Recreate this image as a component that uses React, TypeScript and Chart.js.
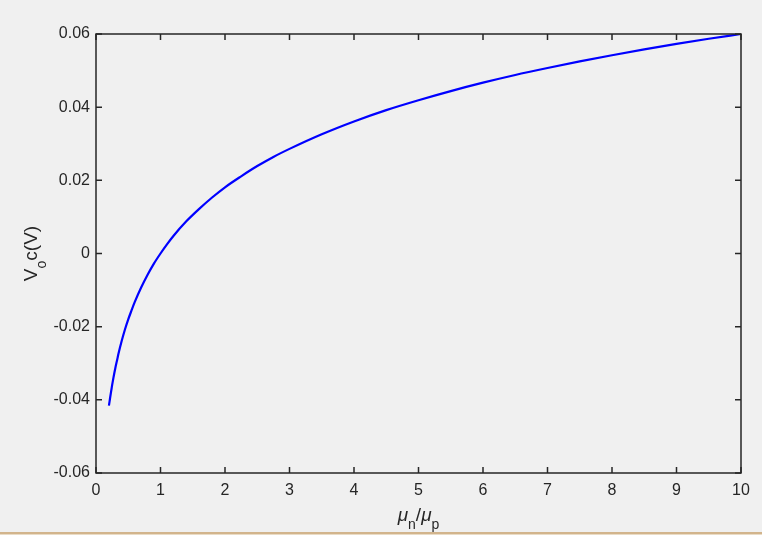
import React, { useEffect, useRef } from "react";
import { Chart, registerables } from "chart.js";

Chart.register(...registerables);

const ratioValues = [0.2, 0.21, 0.22, 0.24, 0.25, 0.27, 0.3, 0.33, 0.35, 0.4, 0.45, 0.5, 0.55, 0.6, 0.7, 0.8, 0.9, 1, 1.1, 1.2, 1.4, 1.6, 1.8, 2, 2.25, 2.5, 2.75, 3, 3.5, 4, 4.5, 5, 5.5, 6, 6.5, 7, 7.5, 8, 8.5, 9, 9.5, 10];
const vocValues = [-0.0416, -0.0405, -0.0393, -0.0371, -0.0360, -0.0340, -0.0313, -0.0289, -0.0273, -0.0238, -0.0207, -0.0180, -0.0156, -0.0133, -0.0093, -0.0058, -0.0027, 0.0, 0.0025, 0.0048, 0.0088, 0.0122, 0.0153, 0.0181, 0.0211, 0.0239, 0.0264, 0.0286, 0.0326, 0.0361, 0.0392, 0.0419, 0.0444, 0.0467, 0.0488, 0.0507, 0.0525, 0.0542, 0.0558, 0.0573, 0.0587, 0.0600];
const xTickValues = [0, 1, 2, 3, 4, 5, 6, 7, 8, 9, 10];
const yTickValues = [-0.06, -0.04, -0.02, 0, 0.02, 0.04, 0.06];
const yTickLabels = ["-0.06", "-0.04", "-0.02", "0", "0.02", "0.04", "0.06"];

const FONT = "'Liberation Sans', Arial, Helvetica, sans-serif";
const AX = "#262626";
const W = 762;
const H = 532;

type Part = { t: string; sub?: boolean; it?: boolean };

function drawParts(ctx: CanvasRenderingContext2D, parts: Part[], cx: number, baseline: number, main: number, sub: number, subOff: number) {
  const fontOf = (p: Part) => `${p.it ? "italic " : ""}${p.sub ? sub : main}px ${FONT}`;
  let total = 0;
  for (const p of parts) {
    ctx.font = fontOf(p);
    total += ctx.measureText(p.t).width;
  }
  let x = cx - total / 2;
  ctx.textAlign = "left";
  ctx.textBaseline = "alphabetic";
  for (const p of parts) {
    ctx.font = fontOf(p);
    ctx.fillText(p.t, x, baseline + (p.sub ? subOff : 0));
    x += ctx.measureText(p.t).width;
  }
}

const matlabAxes = {
  id: "matlabAxes",
  afterDraw(chart: any) {
    const ctx: CanvasRenderingContext2D = chart.ctx;
    const { left, right, top, bottom } = chart.chartArea;
    const xs = chart.scales.x;
    const ys = chart.scales.y;
    ctx.save();
    ctx.strokeStyle = AX;
    ctx.lineWidth = 1.5;
    ctx.strokeRect(left, top, right - left, bottom - top);
    const tl = 6;
    ctx.beginPath();
    for (const v of xTickValues) {
      const px = xs.getPixelForValue(v);
      ctx.moveTo(px, bottom);
      ctx.lineTo(px, bottom - tl);
      ctx.moveTo(px, top);
      ctx.lineTo(px, top + tl);
    }
    for (const v of yTickValues) {
      const py = ys.getPixelForValue(v);
      ctx.moveTo(left, py);
      ctx.lineTo(left + tl, py);
      ctx.moveTo(right, py);
      ctx.lineTo(right - tl, py);
    }
    ctx.stroke();

    ctx.fillStyle = AX;
    const cx = (left + right) / 2;
    drawParts(
      ctx,
      [{ t: "\u03bc", it: true }, { t: "n", sub: true }, { t: "/" }, { t: "\u03bc", it: true }, { t: "p", sub: true }],
      cx,
      521,
      19,
      14,
      8
    );
    const cy = (top + bottom) / 2;
    ctx.translate(37, cy);
    ctx.rotate(-Math.PI / 2);
    drawParts(ctx, [{ t: "V" }, { t: "o", sub: true }, { t: "c(V)" }], 0, 0, 19, 14, 9);
    ctx.restore();
  },
};

export default function App() {
  const ref = useRef<HTMLCanvasElement | null>(null);
  useEffect(() => {
    document.body.style.margin = "0";
    const canvas = ref.current;
    if (!canvas) return;
    const data = ratioValues.map((x, i) => ({ x, y: vocValues[i] }));
    const chart = new Chart(canvas, {
      type: "scatter",
      data: {
        datasets: [
          {
            data,
            showLine: true,
            borderColor: "#0000ff",
            borderWidth: 2.2,
            pointRadius: 0,
            fill: false,
            cubicInterpolationMode: "monotone",
          } as any,
        ],
      },
      options: {
        animation: false,
        responsive: false,
        devicePixelRatio: 1,
        layout: { padding: { top: 34, right: 21, left: 0, bottom: 0 } },
        plugins: { legend: { display: false }, tooltip: { enabled: false } },
        scales: {
          x: {
            type: "linear",
            min: 0,
            max: 10,
            afterBuildTicks: (s: any) => {
              s.ticks = xTickValues.map((v) => ({ value: v }));
            },
            ticks: {
              color: AX,
              font: { family: FONT, size: 16 },
              padding: 8,
              maxRotation: 0,
              autoSkip: false,
              callback: (v: any) => String(v),
            },
            grid: { display: false, drawTicks: false },
            border: { display: false },
            afterFit: (s: any) => {
              s.height = H - 473;
            },
          },
          y: {
            type: "linear",
            min: -0.06,
            max: 0.06,
            afterBuildTicks: (s: any) => {
              s.ticks = yTickValues.map((v) => ({ value: v }));
            },
            ticks: {
              color: AX,
              font: { family: FONT, size: 16 },
              padding: 6,
              autoSkip: false,
              callback: (v: any) => {
                const i = yTickValues.findIndex((t) => Math.abs(t - Number(v)) < 1e-9);
                return i >= 0 ? yTickLabels[i] : "";
              },
            },
            grid: { display: false, drawTicks: false },
            border: { display: false },
            afterFit: (s: any) => {
              s.width = 96;
            },
          },
        },
      },
      plugins: [matlabAxes],
    });
    return () => chart.destroy();
  }, []);

  return (
    <div style={{ position: "fixed", left: 0, top: 0, width: W, height: 538, background: "#ffffff", overflow: "hidden" }}>
      <div style={{ position: "absolute", left: 0, top: 0, width: W, height: H, background: "#f0f0f0" }}>
        <canvas ref={ref} width={W} height={H} style={{ display: "block", width: W, height: H }} />
      </div>
      <div style={{ position: "absolute", left: 0, top: 532, width: W, height: 2, background: "#d2b48c" }} />
      <div style={{ position: "absolute", left: 0, top: 534, width: W, height: 1, background: "#eadcc6" }} />
    </div>
  );
}
